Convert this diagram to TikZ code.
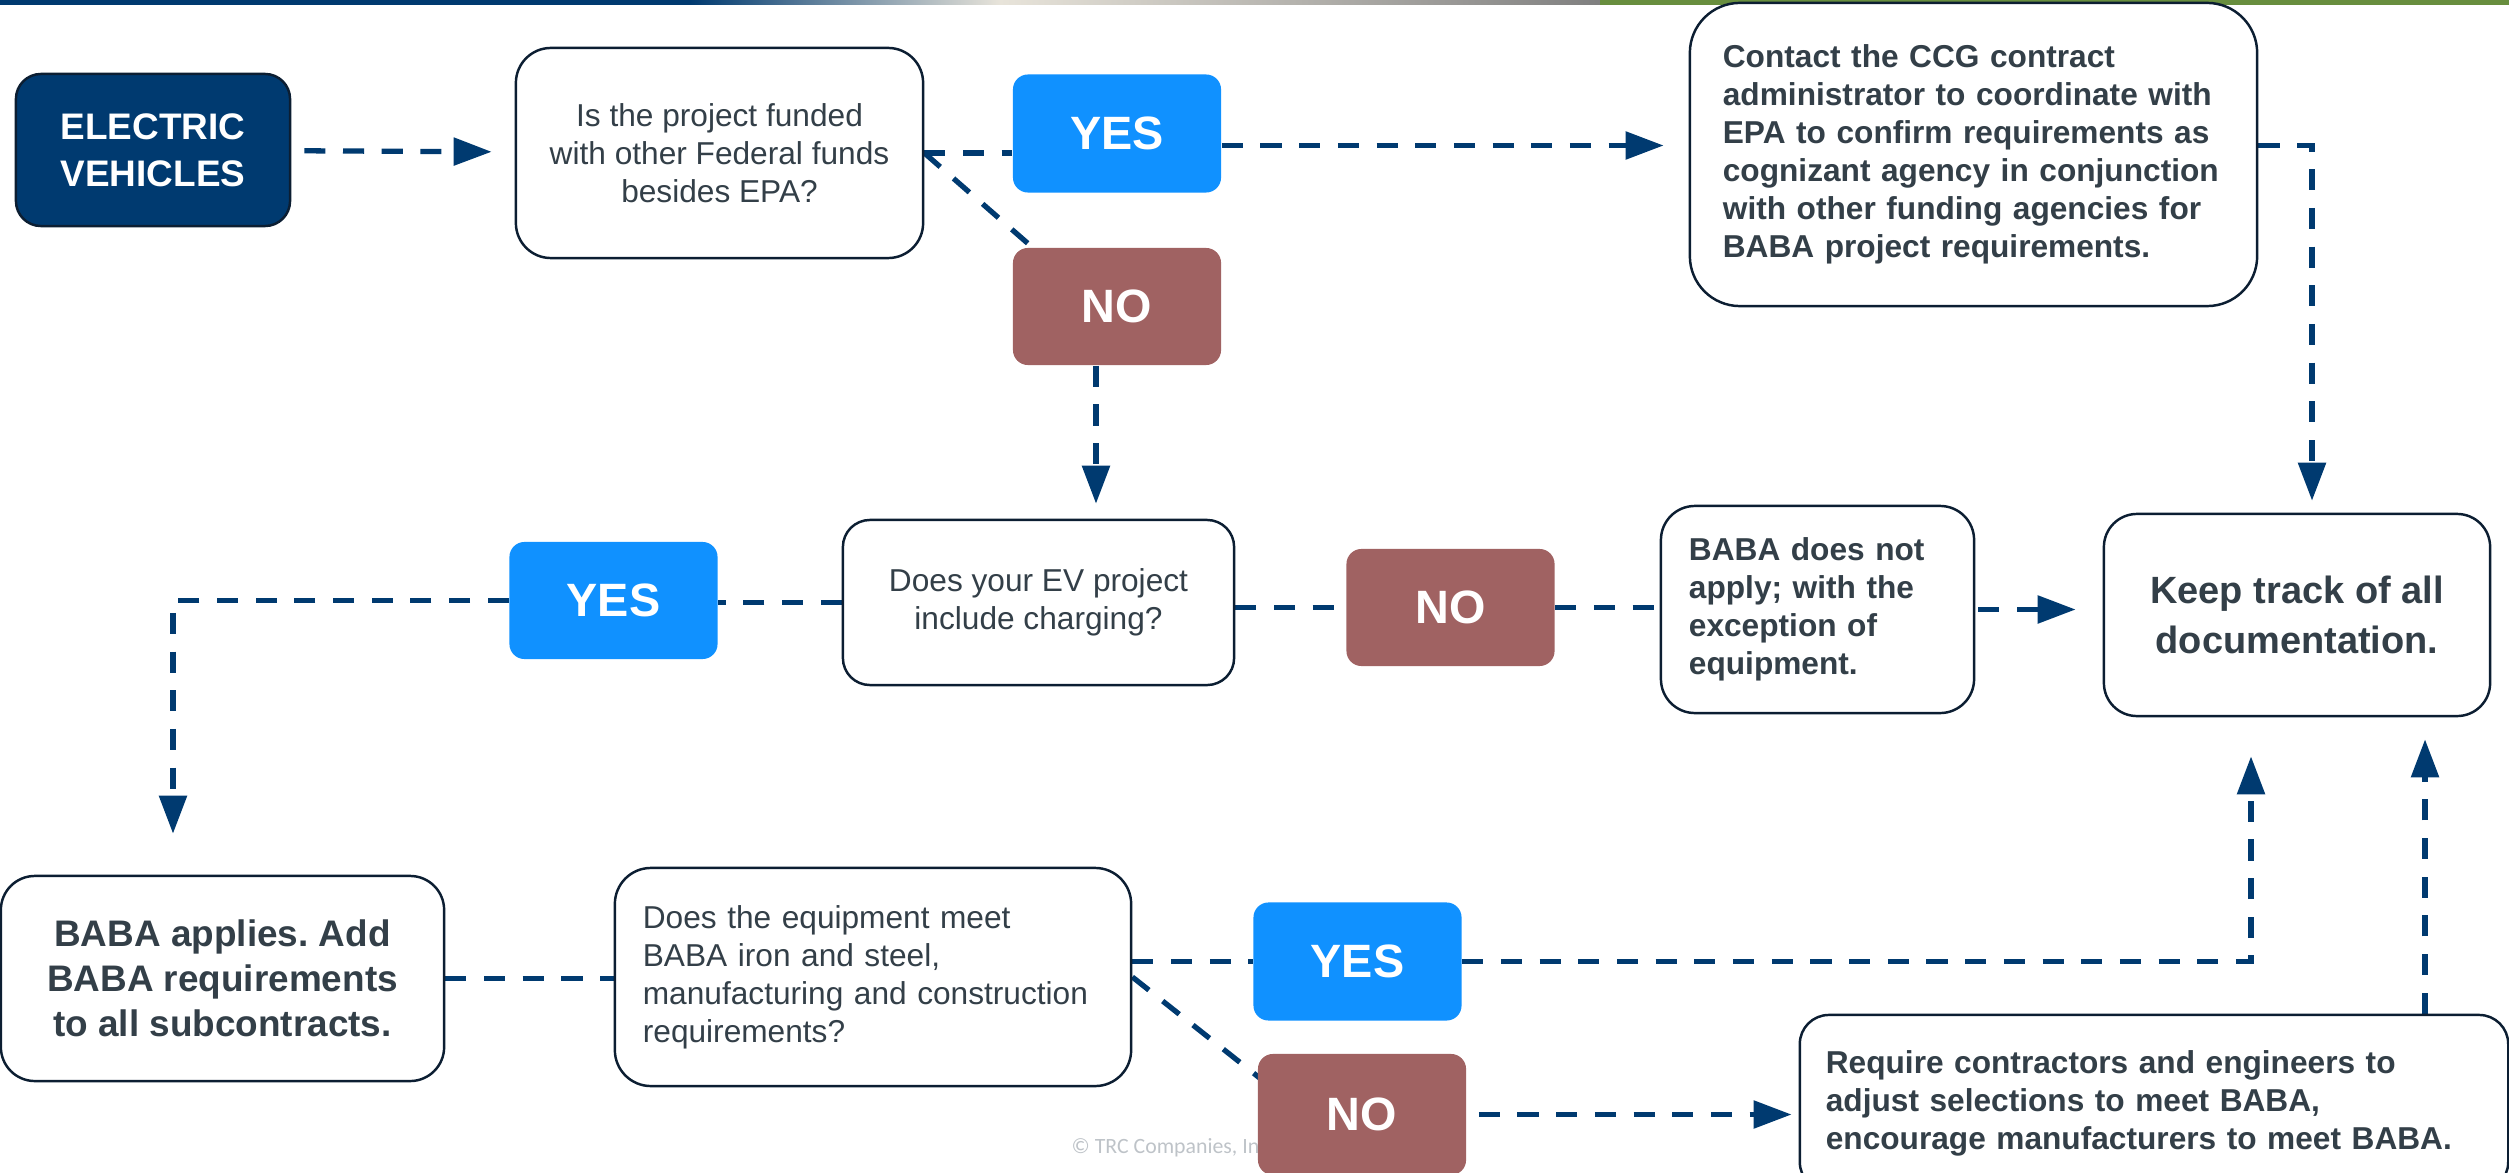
\documentclass[tikz,border=0pt]{standalone}
\usepackage{fontspec}
\setmainfont{Liberation Sans}
\newfontfamily\copyfont{Carlito}
\usetikzlibrary{arrows.meta, positioning, calc, backgrounds}
\frenchspacing

\definecolor{evnavy}{RGB}{0, 58, 112}
\definecolor{yesblue}{RGB}{16, 145, 255}
\definecolor{nobrown}{RGB}{160, 98, 98}
\definecolor{boxline}{RGB}{12, 30, 50}
\definecolor{slatetext}{RGB}{51, 63, 72}
\definecolor{copygray}{RGB}{190, 195, 200}
\definecolor{bannerlight}{RGB}{232, 228, 218}
\definecolor{bannergreen}{RGB}{104, 142, 62}

\begin{document}
\begin{tikzpicture}[x=0.01cm, y=-0.01cm,
    flow/.style={evnavy, line width=1.5pt, dash pattern=on 6pt off 5pt},
    flowarr/.style={flow, -{Triangle[length=10.8pt, width=7.7pt]}},
    qbox/.style={draw=boxline, line width=0.7pt, fill=white, text=slatetext,
      align=center, font=\fontsize{9}{10.8}\selectfont},
    boldbox/.style={qbox, font=\bfseries\fontsize{9}{10.8}\selectfont},
    leftbox/.style={align=left, inner xsep=0pt},
    answer/.style={text=white, rounded corners=0.15cm, minimum width=2.08cm,
      minimum height=1.18cm, font=\bfseries\fontsize{13.3}{16}\selectfont},
    yesbox/.style={answer, fill=yesblue},
    nobox/.style={answer, fill=nobrown},
  ]
  \useasboundingbox (0,0) rectangle (2509,1173);
  \clip (0,0) rectangle (2509,1173);

  % banner strip at the top
  \fill[evnavy] (0,0) rectangle (690,5);
  \shade[left color=evnavy, right color=bannerlight] (690,0) rectangle (1000,5);
  \shade[left color=bannerlight, right color=gray] (1000,0) rectangle (1600,5);
  \fill[bannergreen] (1600,0) rectangle (2509,5);

  % first question
  \node[qbox, fill=evnavy, text=white, rounded corners=0.25cm, minimum width=2.74cm,
    minimum height=1.52cm, font=\bfseries\fontsize{10.5}{13.4}\selectfont]
    (ev) at (153,150) {ELECTRIC\\VEHICLES};
  \node[qbox, rounded corners=0.35cm, minimum width=4.07cm, minimum height=2.10cm]
    (q1) at (719.5,153) {Is the project funded\\with other Federal funds\\besides EPA?};
  \node[yesbox] (yes1) at (1117,133.5) {YES};
  \node[nobox, minimum height=1.17cm] (no1) at (1117,306.5) {NO};
  \node[boldbox, leftbox, text width=5.01cm, rounded corners=0.5cm, minimum width=5.67cm, minimum height=3.03cm]
    (contact) at (1973.5,154.5) {Contact the CCG contract\\administrator to coordinate with\\EPA to confirm requirements as\\cognizant agency in conjunction\\with other funding agencies for\\BABA project requirements.};

  % second question
  \node[qbox, rounded corners=0.27cm, minimum width=3.91cm, minimum height=1.65cm]
    (q2) at (1038.5,602.5) {Does your EV project\\include charging?};
  \node[yesbox, minimum height=1.17cm] (yes2) at (613.5,600.5) {YES};
  \node[nobox, minimum height=1.17cm] (no2) at (1450.5,607.5) {NO};
  \node[boldbox, leftbox, text width=2.57cm, rounded corners=0.34cm, minimum width=3.13cm, minimum height=2.07cm]
    (bnot) at (1817.5,609.5) {BABA does not\\apply; with the\\exception of\\equipment.};
  \node[qbox, rounded corners=0.33cm, minimum width=3.86cm, minimum height=2.02cm,
    font=\bfseries\fontsize{10.8}{14.2}\selectfont]
    (keep) at (2297,615) {Keep track of all\\documentation.};

  % third question
  \node[qbox, rounded corners=0.34cm, minimum width=4.43cm, minimum height=2.05cm,
    font=\bfseries\fontsize{10.5}{12.8}\selectfont]
    (bapp) at (222.5,978.5) {BABA applies. Add\\BABA requirements\\to all subcontracts.};
  \node[qbox, leftbox, text width=4.60cm, rounded corners=0.36cm, minimum width=5.16cm, minimum height=2.18cm]
    (q3) at (873,977) {Does the equipment meet\\BABA iron and steel,\\manufacturing and construction\\requirements?};
  \node[yesbox] (yes3) at (1357.5,961.5) {YES};
  \node[anchor=base west, text=copygray, inner sep=0pt, font=\copyfont\fontsize{6.2}{8}\selectfont]
    (copy) at (1071,1153) {© TRC Companies, Inc.};
  \node[nobox, minimum height=1.21cm] (no3) at (1362,1114.5) {NO};
  \node[boldbox, leftbox, text width=6.56cm, rounded corners=0.29cm, minimum width=7.08cm, minimum height=1.76cm]
    (req) at (2154,1103) {Require contractors and engineers to\\adjust selections to meet BABA,\\encourage manufacturers to meet BABA.};

  % helper points for the elbows
  \path (yes1.east) ++(0,12) coordinate (y1o);
  \coordinate (n1s) at ([shift={(-21,0)}]no1.south);
  \coordinate (b1) at ([shift={(-49.5,0)}]bapp.north);
  \coordinate (k2) at ([shift={(-46,0)}]keep.south);
  \coordinate (k3) at ([shift={(128,0)}]keep.south);

  % connectors
  \begin{scope}[on background layer]
    \draw[flowarr, shorten <=0.13cm, shorten >=0.23cm] (ev) -- (q1);
    \draw[flow] (q1.east) -- (q1.east -| yes1.west);
    \draw[flowarr, shorten >=0.25cm] (y1o) -- (y1o -| contact.west);
    \draw[flow] (q1.east) -- ([shift={(20,0)}]no1.north west);
    \draw[flowarr, shorten >=0.15cm] (n1s) -- (n1s |- q2.north);
    \draw[flowarr, shorten >=0.12cm] ([shift={(0,-9)}]contact.east) -| ([shift={(15,0)}]keep.north);

    \draw[flow] (q2.east |- no2.west) -- (no2.west);
    \draw[flow] (no2.east) -- (no2.east -| bnot.west);
    \draw[flowarr, shorten <=0.03cm, shorten >=0.27cm] (bnot.east) -- (bnot.east -| keep.west);
    \draw[flow] (q2.west) -- (q2.west -| yes2.east);
    \draw[flowarr, shorten >=0.41cm] (yes2.west) -| (b1);

    \draw[flow] (bapp.east) -- (bapp.east -| q3.west);
    \draw[flow] (q3.east |- yes3.west) -- (yes3.west);
    \draw[flowarr, shorten >=0.39cm] (yes3.east) -| (k2);
    \draw[flow] (q3.east) -- ([shift={(4,26)}]no3.north west);
    \draw[flowarr, shorten <=0.12cm, shorten >=0.07cm] (no3.east) -- (no3.east -| req.west);
    \draw[flowarr, shorten >=0.22cm] (k3 |- req.north) -- (k3);
  \end{scope}
\end{tikzpicture}
\end{document}
